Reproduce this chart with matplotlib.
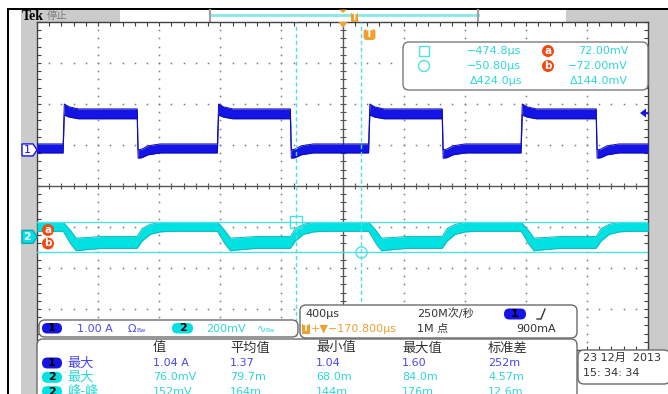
import numpy as np
import matplotlib.pyplot as plt
from matplotlib.patches import FancyBboxPatch, Rectangle, Polygon, Circle
from matplotlib.ticker import MultipleLocator, NullLocator

plt.rcParams['font.family'] = ['DejaVu Sans', 'Noto Sans CJK SC']

# timebase and channel settings
t_div = 400.0            # us / div
center = -170.8          # screen centre relative to trigger (us)
ch1_scale, ch1_pos = 1.0, 0.88      # A/div, offset in div
ch2_scale, ch2_pos = 200.0, -1.24   # mV/div, offset in div

# switching edges of the channel 1 current (us, trigger at 0)
rise_t = [-2000, -990, 0, 998]
fall_t = [-1515, -512, 482, 1490]

# trace envelopes after each edge: (dt us, upper, lower)
ch1_start = (0.146, -0.073)
ch1_after_rise = [(8, 1.12, 0.85), (40, 1.05, 0.80), (100, 1.00, 0.76)]
ch1_after_fall = [(6, 0.00, -0.20), (30, 0.02, -0.19), (70, 0.10, -0.12), (150, 0.146, -0.073)]
ch2_start = (70.0, 27.0)
ch2_after_rise = [(8, 66, 18), (50, 30, -35), (85, -6, -68), (160, -3, -62), (260, 2, -56)]
ch2_after_fall = [(5, 8, -50), (33, 41, -20), (85, 61, 12), (150, 70, 24), (220, 70, 27)]

# cursors
cursor_t = [-474.8, -50.80]
cursor_v = [72.0, -72.0]

# measurement table
meas_cols = ['值', '平均值', '最小值', '最大值', '标准差']
meas_rows = [('1', '最大', ['1.04 A', '1.37', '1.04', '1.60', '252m']),
             ('2', '最大', ['76.0mV', '79.7m', '68.0m', '84.0m', '4.57m']),
             ('2', '峰-峰', ['152mV', '164m', '144m', '176m', '12.6m'])]

C1 = '#1414e6'
C1_TXT = '#4646f0'
C2 = '#00e2e2'
C2_TXT = '#2ed6d6'
CUR = '#4fe0e6'
ORANGE = '#f0a030'
RED = '#ee4a12'
GRAY = '#cbcbcb'


def envelope(start, tpl_rise, tpl_fall, t0, t1):
    edges = sorted([(t, tpl_rise) for t in rise_t] + [(t, tpl_fall) for t in fall_t],
                   key=lambda e: e[0])
    up, lo = start
    ts, us, ls = [t0], [up], [lo]
    for te, tpl in edges:
        ts.append(te); us.append(up); ls.append(lo)
        for dt, u, l in tpl:
            ts.append(te + dt); us.append(u); ls.append(l)
        up, lo = tpl[-1][1], tpl[-1][2]
    ts.append(t1); us.append(up); ls.append(lo)
    return np.array(ts, float), np.array(us, float), np.array(ls, float)


fig = plt.figure(figsize=(6.68, 3.94), dpi=100)
fig.patch.set_facecolor('white')

# background frame (pixel coordinates)
bg = fig.add_axes([0, 0, 1, 1], zorder=0)
bg.set_xlim(0, 668); bg.set_ylim(394, 0); bg.axis('off')
for x, y, w, h in [(21, 10, 16, 384), (21, 10, 99, 12), (566, 10, 102, 12), (648, 10, 20, 340)]:
    bg.add_patch(Rectangle((x, y), w, h, color=GRAY, lw=0))
bg.add_patch(Rectangle((7, 8), 661, 2, color='black', lw=0))
bg.add_patch(Rectangle((7, 8), 2, 386, color='black', lw=0))
bg.plot([210, 478], [15, 15], color='#86e8e8', lw=2)
bg.plot([209.5, 209.5], [10, 21], color='#a0a0a0', lw=1.5)
bg.plot([478, 478], [10, 21], color='#a0a0a0', lw=1.5)
bg.text(22, 16, 'Tek', family='Liberation Serif', weight='bold', fontsize=10, va='center')
bg.text(47, 16, '停止', family=['Noto Sans CJK SC'], fontsize=7.5, color='#7a7a7a', va='center')

# scope graticule
ax = fig.add_axes([37 / 668, 44 / 394, 611 / 668, 328 / 394], zorder=1)
ax.set_xlim(center - 5 * t_div, center + 5 * t_div)
ax.set_ylim(-4, 4)
ax.set_facecolor('white')
for s in ax.spines.values():
    s.set_color('#404040'); s.set_linewidth(1)
ax.xaxis.set_major_locator(NullLocator())
ax.yaxis.set_major_locator(NullLocator())
ax.xaxis.set_minor_locator(MultipleLocator(t_div / 5, offset=center))
ax.yaxis.set_minor_locator(MultipleLocator(0.2))
ax.tick_params(which='minor', direction='in', length=3, width=0.8, color='#404040',
               top=True, right=True, labelbottom=False, labelleft=False)

fine_x = center + t_div * np.arange(-5, 5.01, 0.2)
fine_y = np.arange(-4, 4.01, 0.2)
for k in range(-4, 5):
    if k != 0:
        xv = center + k * t_div
        ax.plot(np.full_like(fine_y, xv), fine_y, ls='none', marker='s', ms=1.1,
                mew=0, color='#7a7a7a')
for k in range(-3, 4):
    if k != 0:
        ax.plot(fine_x, np.full_like(fine_x, k), ls='none', marker='s', ms=1.1,
                mew=0, color='#7a7a7a')
ax.axhline(0, color='#555555', lw=1)
ax.axvline(center, color='#555555', lw=1)
ax.plot(fine_x, np.zeros_like(fine_x), ls='none', marker='|', ms=4, mew=0.8, color='#555555')
ax.plot(np.full_like(fine_y, center), fine_y, ls='none', marker='_', ms=4, mew=0.8, color='#555555')

t0, t1 = center - 5 * t_div, center + 5 * t_div

# channel 2 voltage
t, up, lo = envelope(ch2_start, ch2_after_rise, ch2_after_fall, t0, t1)
u2, l2 = up / ch2_scale + ch2_pos, lo / ch2_scale + ch2_pos
ax.fill_between(t, u2, l2, color=C2, lw=0, zorder=3)
ax.plot(t, u2, color='#14b4bc', lw=0.7, zorder=3)
ax.plot(t, l2, color='#14b4bc', lw=0.7, zorder=3)

# channel 1 current
t, up, lo = envelope(ch1_start, ch1_after_rise, ch1_after_fall, t0, t1)
u1, l1 = up / ch1_scale + ch1_pos, lo / ch1_scale + ch1_pos
ax.fill_between(t, u1, l1, color=C1, lw=0, zorder=3)
ax.plot(t, u1, color='#0a0ab4', lw=0.7, zorder=3)
ax.plot(t, l1, color='#0a0ab4', lw=0.7, zorder=3)

# cursors
for ct in cursor_t:
    ax.axvline(ct, color=CUR, lw=1, ls=(0, (3, 2)), zorder=4)
for cv in cursor_v:
    ax.axhline(cv / ch2_scale + ch2_pos, color=CUR, lw=1, zorder=4)
ax.plot(cursor_t[0], cursor_v[0] / ch2_scale + ch2_pos, marker='s', ms=8, mfc='none',
        mec=CUR, mew=1, zorder=5)
ax.plot(cursor_t[1], cursor_v[1] / ch2_scale + ch2_pos, marker='o', ms=8, mfc='none',
        mec=CUR, mew=1, zorder=5)

# overlay: markers, readouts and panels
ov = fig.add_axes([0, 0, 1, 1], zorder=2)
ov.set_xlim(0, 668); ov.set_ylim(394, 0); ov.axis('off')
ov.patch.set_alpha(0)


def pill(x, y, w, h, fc, label, txt_color='black', size=8):
    ov.add_patch(FancyBboxPatch((x, y), w, h, boxstyle='round,pad=0,rounding_size=%g' % (h / 2),
                                fc=fc, ec='none'))
    ov.text(x + w / 2, y + h / 2, label, ha='center', va='center', fontsize=size,
            color=txt_color, weight='bold')


def box(x, y, w, h, r=6, ec='#6a6a6a'):
    ov.add_patch(FancyBboxPatch((x, y), w, h, boxstyle='round,pad=0,rounding_size=%g' % r,
                                fc='white', ec=ec, lw=1))


# channel ground tags
y1 = 186 - ch1_pos * 41
y2 = 186 - ch2_pos * 41
ov.add_patch(Polygon([(22, y1 - 6), (33, y1 - 6), (37, y1), (33, y1 + 6), (22, y1 + 6)],
                     fc='white', ec=C1, lw=1))
ov.text(27.5, y1, '1', ha='center', va='center', fontsize=8, color=C1)
ov.add_patch(Polygon([(22, y2 - 6.5), (33, y2 - 6.5), (37, y2), (33, y2 + 6.5), (22, y2 + 6.5)],
                     fc=C2, ec='#10a8b0', lw=1))
ov.text(27.5, y2, '2', ha='center', va='center', fontsize=8, color='white', weight='bold')
for lab, yy in [('a', 230), ('b', 243.5)]:
    ov.add_patch(Circle((48, yy), 6, fc=RED, ec='none'))
    ov.text(48, yy - 0.5, lab, ha='center', va='center', fontsize=7.5, color='white',
            weight='bold')

# trigger level and position markers
ylev = 186 - (0.9 / ch1_scale + ch1_pos) * 41
ov.add_patch(Polygon([(640, ylev), (646, ylev - 4.5), (646, ylev + 4.5)], fc=C1, ec='none'))
ov.plot([644, 648], [ylev, ylev], color=C1, lw=1)
ov.add_patch(Polygon([(338.5, 22), (347.5, 22), (343, 28)], fc=ORANGE, ec='none'))
ov.add_patch(Polygon([(339, 9.5), (347, 9.5), (343, 13)], fc=ORANGE, ec='none'))
ov.add_patch(FancyBboxPatch((363.5, 29), 12, 11, boxstyle='round,pad=0,rounding_size=3',
                            fc=ORANGE, ec='none'))
ov.text(369.5, 34, 'T', ha='center', va='center', fontsize=7, color='white', weight='bold')
ov.add_patch(Rectangle((351, 13), 6.5, 8.5, fc=ORANGE, ec='none'))
ov.text(354.2, 17.2, 'T', ha='center', va='center', fontsize=5.5, color='white', weight='bold')

# cursor readout
box(403, 42, 245, 48, r=6, ec='#7a7a7a')
ov.add_patch(Rectangle((419, 46), 10, 10, fc='none', ec=CUR, lw=1))
ov.add_patch(Circle((424, 66), 5.5, fc='none', ec=CUR, lw=1))
for yy, tv, lab, vv in [(51, '\u2212474.8\u00b5s', 'a', '72.00mV'),
                        (66, '\u221250.80\u00b5s', 'b', '\u221272.00mV')]:
    ov.text(521, yy, tv, ha='right', va='center', fontsize=8, color=C2_TXT)
    ov.add_patch(Circle((548, yy), 6, fc=RED, ec='none'))
    ov.text(548, yy - 0.5, lab, ha='center', va='center', fontsize=7.5, color='white',
            weight='bold')
    ov.text(628, yy, vv, ha='right', va='center', fontsize=8, color=C2_TXT)
ov.text(522, 81, '\u0394424.0\u00b5s', ha='right', va='center', fontsize=8, color=C2_TXT)
ov.text(628, 81, '\u0394144.0mV', ha='right', va='center', fontsize=8, color=C2_TXT)

# horizontal / acquisition box
box(300, 305, 277, 33)
ov.text(305, 314, '400\u00b5s', va='center', fontsize=8, color='#333333')
ov.add_patch(Rectangle((302, 323.5), 8, 10, fc=ORANGE, ec='none'))
ov.text(306, 328.5, 'T', ha='center', va='center', fontsize=6, color='white', weight='bold')
ov.text(311, 328.5, '+\u25bc\u2212170.800\u00b5s', va='center', fontsize=8, color=ORANGE)
ov.text(417, 314, '250M次/秒', va='center', fontsize=8, color='#333333')
ov.text(417, 329, '1M 点', va='center', fontsize=8, color='#333333')
pill(504, 308.5, 22, 11, C1, '1')
ov.plot([537, 541, 545], [319, 319, 309], color='#333333', lw=1)
ov.text(516, 329, '900mA', va='center', fontsize=8, color='#333333')

# vertical settings bar
box(39, 320, 259, 17)
pill(42, 323, 20, 10.5, C1, '1')
ov.text(77, 328.5, '1.00 A', va='center', fontsize=8, color=C1_TXT)
ov.text(128, 328.5, '\u03a9', va='center', fontsize=8, color=C1_TXT)
ov.text(136, 330.5, 'Bw', va='center', fontsize=4.5, color=C1_TXT)
pill(172, 323, 21, 10.5, C2, '2')
ov.text(206, 328.5, '200mV', va='center', fontsize=8, color=C2_TXT)
ov.text(257, 328.5, '\u223f', va='center', fontsize=8, color=C2_TXT)
ov.text(265, 330.5, 'Bw', va='center', fontsize=4.5, color=C2_TXT)

# measurement table
box(37, 339, 540, 80)
col_x = [153, 230, 316, 402, 488]
for cx, name in zip(col_x, meas_cols):
    ov.text(cx, 348, name, va='center', fontsize=9.5, color='#333333')
for i, (ch, label, vals) in enumerate(meas_rows):
    yy = 363 + i * 14.3
    fc, tc = (C1, C1_TXT) if ch == '1' else (C2, C2_TXT)
    pill(42, yy - 5.5, 20, 11, fc, ch)
    ov.text(67, yy, label, va='center', fontsize=9.5, color=tc)
    for cx, v in zip(col_x, vals):
        ov.text(cx, yy, v, va='center', fontsize=8, color=tc)

# date / time
box(578, 350, 92, 34)
ov.text(583, 357.5, '23 12月  2013', va='center', fontsize=8, color='#333333')
ov.text(583, 372.5, '15: 34: 34', va='center', fontsize=8, color='#333333')

fig.savefig('out.png', dpi=100)
plt.close(fig)
